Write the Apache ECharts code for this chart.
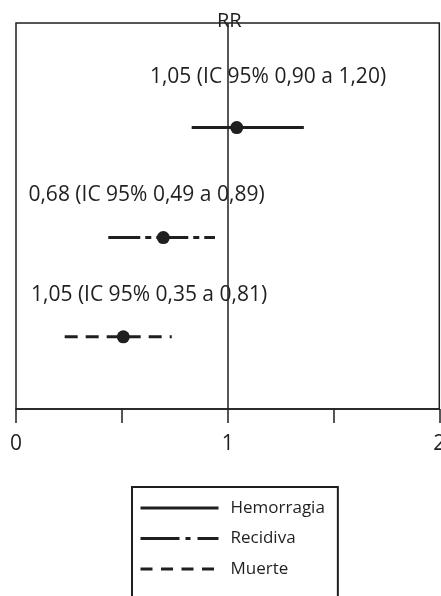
<!DOCTYPE html>
<html>
<head>
<meta charset="utf-8">
<script src="https://cdn.jsdelivr.net/npm/echarts@6/dist/echarts.min.js"></script>
<style>
html,body{margin:0;padding:0;background:#fff;}
#chart{width:441px;height:596px;}
</style>
</head>
<body>
<div id="chart"></div>
<script>
// Data
var seriesNames = ['Hemorragia', 'Recidiva', 'Muerte'];
var rrEstimate = [1.043, 0.696, 0.507];
var ciLow = [0.83, 0.436, 0.23];
var ciHigh = [1.36, 0.94, 0.736];
var rowPos = [7.29, 4.44, 1.87];
var labelTexts = ['1,05 (IC 95% 0,90 a 1,20)', '0,68 (IC 95% 0,49 a 0,89)', '1,05 (IC 95% 0,35 a 0,81)'];
var labelX = [1.193, 0.619, 0.631];
var labelY = [8.60, 5.53, 2.94];
var xTicks = [0, 1, 2];
var axisTitle = 'RR';

var ink = '#1f1f1f';
var font = 'Open Sans';
var dashPlot = ['solid', [32, 5, 6, 5], [13, 8]];
var dashLegend = ['solid', [39, 6, 5, 7], [12, 8.5]];

var series = [];
seriesNames.forEach(function (name, i) {
  series.push({
    name: name,
    type: 'line',
    silent: true,
    showSymbol: true,
    symbol: 'circle',
    symbolSize: 13,
    itemStyle: { color: ink },
    lineStyle: { color: ink, width: 3, type: dashPlot[i] },
    data: [
      { value: [ciLow[i], rowPos[i]], symbol: 'none' },
      { value: [rrEstimate[i], rowPos[i]], symbol: 'circle' },
      { value: [ciHigh[i], rowPos[i]], symbol: 'none' }
    ],
    markLine: i === 0 ? {
      silent: true,
      symbol: 'none',
      label: { show: false },
      lineStyle: { color: ink, width: 1.5, type: 'solid' },
      data: [{ xAxis: 1 }]
    } : undefined,
    z: 3
  });
});
series.push({
  name: 'labels',
  type: 'scatter',
  silent: true,
  symbolSize: 1,
  itemStyle: { color: 'rgba(0,0,0,0)' },
  label: {
    show: true,
    position: [0, 0],
    align: 'center',
    verticalAlign: 'middle',
    opacity: 1,
    formatter: function (p) { return labelTexts[p.dataIndex]; },
    fontFamily: font,
    fontSize: 21,
    color: ink
  },
  data: labelX.map(function (x, i) { return [x, labelY[i]]; }),
  z: 4
});

var chart = echarts.init(document.getElementById('chart'), null, { renderer: 'canvas' });
chart.setOption({
  animation: false,
  backgroundColor: '#fff',
  title: {
    text: axisTitle,
    left: 217,
    top: 11,
    padding: 0,
    textStyle: { fontFamily: font, fontSize: 20, fontWeight: 'normal', color: ink }
  },
  grid: {
    left: 16, right: 1.7, top: 23, bottom: 187,
    show: true, borderColor: ink, borderWidth: 1.5, backgroundColor: 'transparent',
    containLabel: false,
    outerBoundsMode: 'none'
  },
  xAxis: {
    type: 'value',
    min: xTicks[0], max: xTicks[xTicks.length - 1], interval: 1,
    axisLine: { show: true, lineStyle: { color: ink, width: 1.5 } },
    axisTick: { show: true, length: 14, lineStyle: { color: ink, width: 1.5 } },
    minorTick: { show: true, splitNumber: 2, length: 14, lineStyle: { color: ink, width: 1.5 } },
    splitLine: { show: false },
    axisLabel: { show: true, margin: 25, hideOverlap: false, fontFamily: font, fontSize: 21, color: ink, formatter: function (v) { return String(v); } }
  },
  yAxis: {
    type: 'value', min: 0, max: 10, show: false,
    splitLine: { show: false }
  },
  legend: {
    show: true,
    orient: 'vertical',
    left: 132,
    bottom: -10,
    padding: [12.5, 13, 28.5, 7],
    itemWidth: 78,
    itemHeight: 14,
    itemGap: 13.5,
    borderColor: ink,
    borderWidth: 2,
    selectedMode: false,
    itemStyle: { opacity: 0 },
    textStyle: { fontFamily: font, fontSize: 17, color: ink, padding: [0, 0, 0, 7] },
    data: seriesNames.map(function (n, i) {
      return { name: n, itemStyle: { opacity: 0 }, lineStyle: { color: ink, width: 3, type: dashLegend[i] } };
    })
  },
  series: series
});
</script>
</body>
</html>
